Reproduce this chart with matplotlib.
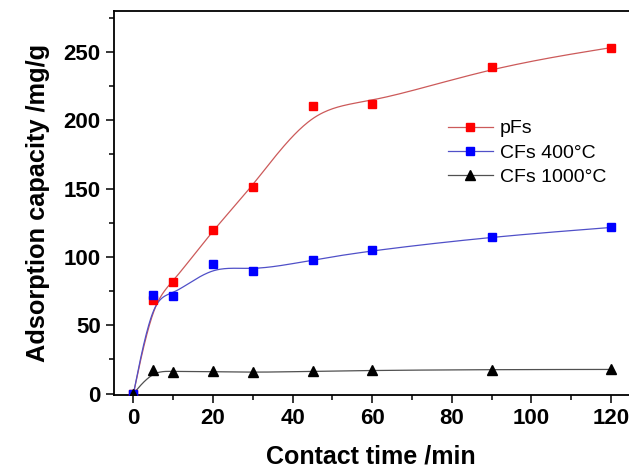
import numpy as np
import matplotlib
matplotlib.use("Agg")
import matplotlib.pyplot as plt
from matplotlib.ticker import MultipleLocator

plt.rcParams['font.family'] = ['Liberation Sans', 'DejaVu Sans']

# contact time (min)
time = [0, 5, 10, 20, 30, 45, 60, 90, 120]

# adsorption capacity (mg/g)
pfs = [0, 68.4, 81.5, 120.1, 151.4, 210.8, 212.2, 239.0, 253.2]
cfs400 = [0, 72.5, 71.3, 94.5, 89.6, 97.9, 104.8, 114.8, 121.6]
cfs1000 = [0, 17.0, 16.0, 16.2, 15.5, 16.3, 17.0, 17.6, 17.7]


def bspline(xs, ys):
    # clamped uniform cubic B-spline using the data points as control points
    p = np.column_stack([xs, ys]).astype(float)
    p = np.vstack([p[0], p[0], p, p[-1], p[-1]])
    out = []
    for i in range(len(p) - 3):
        t = np.linspace(0, 1, 40)[:, None]
        b0 = (1 - t) ** 3 / 6
        b1 = (3 * t**3 - 6 * t**2 + 4) / 6
        b2 = (-3 * t**3 + 3 * t**2 + 3 * t + 1) / 6
        b3 = t**3 / 6
        out.append(b0 * p[i] + b1 * p[i + 1] + b2 * p[i + 2] + b3 * p[i + 3])
    c = np.vstack(out)
    return c[:, 0], c[:, 1]


fig = plt.figure(figsize=(6.29, 4.68), dpi=100)
ax = fig.add_axes([0.1805, 0.156, 0.8195, 0.8205])

series = [
    (pfs, 'pFs', '#ff0000', '#cc5a5a', 's', 5.8),
    (cfs400, 'CFs 400\u00b0C', '#0000ff', '#5050c8', 's', 5.8),
    (cfs1000, 'CFs 1000\u00b0C', '#000000', '#505050', '^', 7.2),
]
for vals, name, mc, lc, mk, ms in series:
    sx, sy = bspline(time, vals)
    ax.plot(sx, sy, color=lc, lw=0.9, zorder=2)
    ax.plot(time, vals, linestyle='none', marker=mk, ms=ms, color=mc, zorder=3)
    # legend proxy
    ax.plot([], [], color=lc, lw=0.9, marker=mk, ms=ms, mfc=mc, mec=mc, label=name)

ax.set_xlim(-5, 124.5)
ax.set_ylim(-1, 280)
ax.xaxis.set_major_locator(MultipleLocator(20))
ax.xaxis.set_minor_locator(MultipleLocator(10))
ax.yaxis.set_major_locator(MultipleLocator(50))
ax.yaxis.set_minor_locator(MultipleLocator(25))
ax.tick_params(which='major', direction='out', length=5.8, width=1.1, labelsize=16, pad=3.5)
ax.tick_params(which='minor', direction='out', length=3.6, width=1.1)
ax.tick_params(top=False, right=False)
for lab in ax.get_xticklabels() + ax.get_yticklabels():
    lab.set_fontweight('bold')
for s in ax.spines.values():
    s.set_linewidth(1.3)
ax.spines['right'].set_visible(False)

ax.set_xlabel('Contact time /min', fontsize=18, fontweight='bold', labelpad=11)
ax.set_ylabel('Adsorption capacity /mg/g', fontsize=18.3, fontweight='bold', labelpad=10)

ax.legend(loc='upper left', bbox_to_anchor=(0.615, 0.762), frameon=False, fontsize=14,
          handlelength=2.3, handletextpad=0.35, labelspacing=0.33)

fig.savefig('out.png', dpi=100)
